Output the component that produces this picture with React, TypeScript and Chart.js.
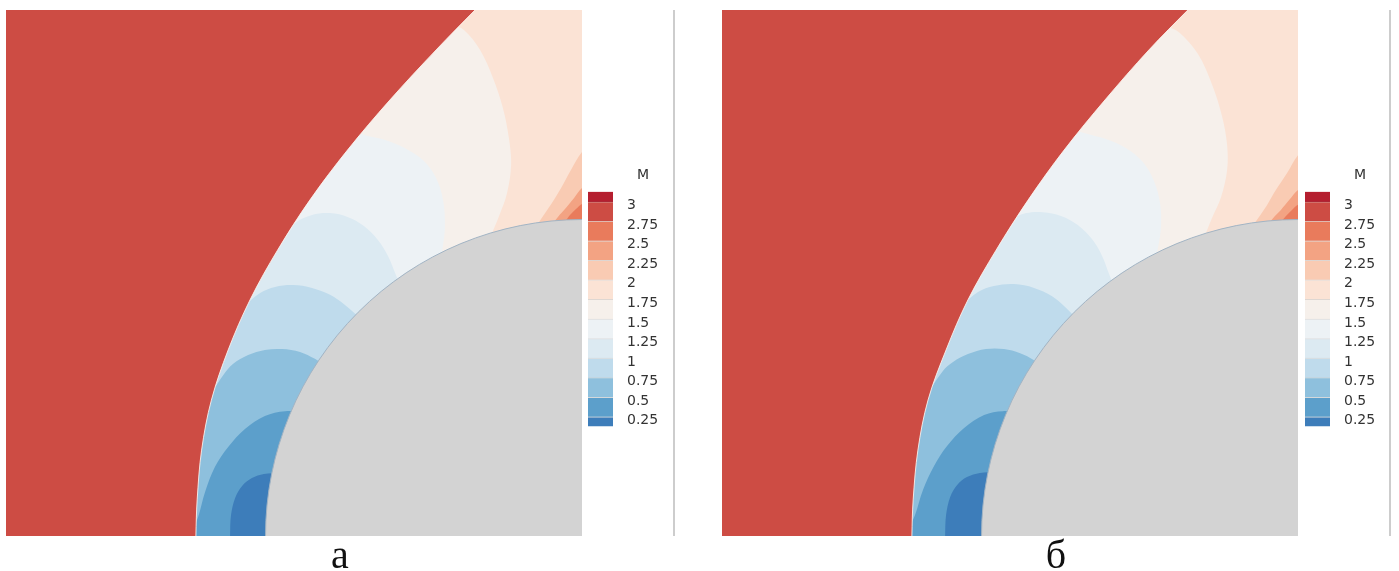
import React, { useEffect, useRef } from "react";
import { Chart, registerables } from "chart.js";

Chart.register(...registerables);

type Pt = [number, number];

// Flow window in body radii (cylinder of radius 1 centred at the origin)
const X_MIN = -1.82;
const X_MAX = 0;
const Y_MIN = 0;
const Y_MAX = 1.66;
const BODY_R = 1;

// Mach-number levels and the colour of each band (below 0.25 ... above 3)
const LEVELS = [0.25, 0.5, 0.75, 1, 1.25, 1.5, 1.75, 2, 2.25, 2.5, 2.75, 3];
const LEGEND_RANGE = [0.125, 3.125];
const BAND_COLORS = [
  "#3D7DBA",
  "#5C9FCB",
  "#8EC0DD",
  "#BFDBEC",
  "#DCEAF2",
  "#EDF2F5",
  "#F6F0EB",
  "#FBE3D5",
  "#F9CBB3",
  "#F3A383",
  "#E97B5C",
  "#CD4C44",
  "#B51E2F",
];
const FREESTREAM_M = 3;
const BODY_COLOR = "#D3D3D3";
const BODY_EDGE = "#A2B4C4";
const SHOCK_EDGE = "rgba(255,244,238,0.85)";
const BAND_SEPARATOR = "rgba(110,110,110,0.22)";
const LEGEND_TITLE = "M";
const PANEL_LABELS = ["а", "б"];

// ---------- panel а ----------
const SHOCK_A: Pt[] = [
  [-1.22, -0.044], [-1.22, 0], [-1.216, 0.114], [-1.202, 0.271], [-1.171, 0.429],
  [-1.118, 0.587], [-1.049, 0.745], [-0.962, 0.902], [-0.86, 1.06], [-0.741, 1.218],
  [-0.607, 1.376], [-0.461, 1.534], [-0.338, 1.66], [-0.291, 1.707],
];
const M025_A: Pt[] = [
  [-1.112, -0.028], [-1.112, 0], [-1.109, 0.066], [-1.096, 0.12], [-1.074, 0.158],
  [-1.043, 0.183], [-1.005, 0.196], [-0.954, 0.199],
];
const M050_A: Pt[] = [
  [-1.232, 0.019], [-1.213, 0.06], [-1.191, 0.139], [-1.16, 0.218], [-1.118, 0.281],
  [-1.065, 0.338], [-1.002, 0.379], [-0.938, 0.394], [-0.875, 0.391],
];
const M075_A: Pt[] = [
  [-1.169, 0.454], [-1.131, 0.511], [-1.103, 0.543], [-1.055, 0.571], [-1.002, 0.587],
  [-0.948, 0.59], [-0.891, 0.581], [-0.844, 0.559], [-0.79, 0.524],
];
const M100_A: Pt[] = [
  [-1.068, 0.726], [-1.017, 0.767], [-0.97, 0.786], [-0.913, 0.792], [-0.853, 0.783],
  [-0.796, 0.761], [-0.749, 0.729], [-0.701, 0.688],
];
const M125_A: Pt[] = [
  [-0.942, 0.947], [-0.907, 0.988], [-0.853, 1.013], [-0.796, 1.019], [-0.739, 1.006],
  [-0.689, 0.978], [-0.645, 0.934], [-0.613, 0.884], [-0.588, 0.824], [-0.566, 0.77],
];
const M150_A: Pt[] = [
  [-0.727, 1.281], [-0.686, 1.265], [-0.622, 1.25], [-0.559, 1.224], [-0.502, 1.186],
  [-0.461, 1.13], [-0.439, 1.06], [-0.433, 0.981], [-0.439, 0.918], [-0.449, 0.865],
];
const M175_A: Pt[] = [
  [-0.411, 1.616], [-0.373, 1.597], [-0.322, 1.534], [-0.281, 1.445], [-0.25, 1.351],
  [-0.231, 1.256], [-0.224, 1.171], [-0.237, 1.082], [-0.262, 1.01], [-0.291, 0.94],
];
const M200_A: Pt[] = [
  [0.041, 1.25], [0, 1.212], [-0.035, 1.155], [-0.066, 1.098], [-0.095, 1.051],
  [-0.123, 1.01], [-0.152, 0.966],
];
const M225_A: Pt[] = [
  [0.041, 1.123], [0, 1.098], [-0.025, 1.067], [-0.051, 1.035], [-0.076, 1.007], [-0.098, 0.978],
];
const M250_A: Pt[] = [
  [0.041, 1.067], [0, 1.048], [-0.019, 1.032], [-0.038, 1.013], [-0.054, 0.991],
];

// ---------- panel б ----------
const SHOCK_B: Pt[] = [
  [-1.22, -0.044], [-1.22, 0], [-1.216, 0.114], [-1.201, 0.271], [-1.169, 0.429],
  [-1.112, 0.587], [-1.043, 0.745], [-0.954, 0.902], [-0.853, 1.06], [-0.739, 1.218],
  [-0.61, 1.376], [-0.471, 1.534], [-0.348, 1.66], [-0.3, 1.707],
];
const M025_B: Pt[] = [
  [-1.115, -0.028], [-1.115, 0], [-1.112, 0.066], [-1.099, 0.123], [-1.077, 0.161],
  [-1.046, 0.186], [-1.005, 0.199], [-0.954, 0.202],
];
const M050_B: Pt[] = [
  [-1.229, 0.025], [-1.21, 0.066], [-1.185, 0.145], [-1.15, 0.221], [-1.109, 0.284],
  [-1.055, 0.341], [-0.992, 0.382], [-0.932, 0.394], [-0.872, 0.388],
];
const M075_B: Pt[] = [
  [-1.163, 0.461], [-1.122, 0.521], [-1.09, 0.549], [-1.043, 0.574], [-0.986, 0.59],
  [-0.929, 0.59], [-0.878, 0.577], [-0.834, 0.555], [-0.787, 0.521],
];
const M100_B: Pt[] = [
  [-1.062, 0.729], [-1.011, 0.77], [-0.961, 0.789], [-0.897, 0.795], [-0.834, 0.783],
  [-0.777, 0.757], [-0.736, 0.723], [-0.695, 0.682],
];
const M125_B: Pt[] = [
  [-0.945, 0.959], [-0.91, 0.997], [-0.859, 1.019], [-0.806, 1.022], [-0.749, 1.01],
  [-0.695, 0.981], [-0.651, 0.937], [-0.619, 0.884], [-0.597, 0.827], [-0.575, 0.77],
];
const M150_B: Pt[] = [
  [-0.717, 1.287], [-0.676, 1.272], [-0.607, 1.253], [-0.543, 1.224], [-0.49, 1.18],
  [-0.455, 1.12], [-0.436, 1.051], [-0.433, 0.975], [-0.442, 0.912], [-0.455, 0.858],
];
const M175_B: Pt[] = [
  [-0.417, 1.609], [-0.376, 1.59], [-0.316, 1.521], [-0.272, 1.426], [-0.24, 1.325],
  [-0.224, 1.234], [-0.224, 1.155], [-0.243, 1.07], [-0.272, 1.003], [-0.3, 0.934],
];
const M200_B: Pt[] = [
  [0.041, 1.24], [0, 1.202], [-0.035, 1.145], [-0.07, 1.092], [-0.098, 1.044],
  [-0.126, 1.003], [-0.155, 0.962],
];
const M225_B: Pt[] = [
  [0.041, 1.117], [0, 1.092], [-0.028, 1.06], [-0.054, 1.029], [-0.079, 1.003], [-0.101, 0.975],
];
const M250_B: Pt[] = [
  [0.041, 1.063], [0, 1.045], [-0.019, 1.029], [-0.038, 1.01], [-0.057, 0.988],
];

interface Contour { level: number; line: Pt[] }
interface PanelSpec { shock: Pt[]; inner: Contour[]; outer: Contour[] }

const PANEL_A: PanelSpec = {
  shock: SHOCK_A,
  inner: [
    { level: 1.75, line: M175_A }, { level: 1.5, line: M150_A }, { level: 1.25, line: M125_A },
    { level: 1, line: M100_A }, { level: 0.75, line: M075_A }, { level: 0.5, line: M050_A },
    { level: 0.25, line: M025_A },
  ],
  outer: [{ level: 2, line: M200_A }, { level: 2.25, line: M225_A }, { level: 2.5, line: M250_A }],
};
const PANEL_B: PanelSpec = {
  shock: SHOCK_B,
  inner: [
    { level: 1.75, line: M175_B }, { level: 1.5, line: M150_B }, { level: 1.25, line: M125_B },
    { level: 1, line: M100_B }, { level: 0.75, line: M075_B }, { level: 0.5, line: M050_B },
    { level: 0.25, line: M025_B },
  ],
  outer: [{ level: 2, line: M200_B }, { level: 2.25, line: M225_B }, { level: 2.5, line: M250_B }],
};

// ---------- helpers ----------
const PAD = 0.05;
const bandBelow = (level: number) => BAND_COLORS[LEVELS.indexOf(level)];
const bandAbove = (level: number) => BAND_COLORS[LEVELS.indexOf(level) + 1];
const xy = (pts: Pt[]) => pts.map(([x, y]) => ({ x, y }));
const twice = (pts: Pt[]) => pts.flatMap((p) => [p, p]);
const pinEnds = (pts: Pt[]) => (pts.length ? [pts[0], ...pts, pts[pts.length - 1]] : []);

function region(curve: Pt[], corners: Pt[], color: string) {
  return {
    type: "line",
    data: xy([...pinEnds(curve), ...twice(corners)]),
    backgroundColor: color,
    borderColor: "rgba(0,0,0,0)",
    borderWidth: 0,
    pointRadius: 0,
    tension: 0.35,
    fill: "shape",
  } as any;
}

function flowConfig(spec: PanelSpec): any {
  const L = X_MIN - PAD;
  const R = X_MAX + PAD;
  const B = Y_MIN - PAD;
  const T = Y_MAX + PAD;
  const layers: any[] = [];
  layers.push(region([], [[L, B], [L, T], [R, T], [R, B]], bandAbove(1.75)));
  for (const c of spec.outer) layers.push(region(c.line, [[X_MAX, B]], bandAbove(c.level)));
  for (const c of spec.inner)
    layers.push(region(c.line, [[X_MAX, B], [L, B], [L, c.line[0][1]]], bandBelow(c.level)));
  layers.push(region(spec.shock, [[L, T], [L, B]], bandBelow(FREESTREAM_M)));
  layers.push({
    type: "line",
    data: xy(spec.shock),
    borderColor: SHOCK_EDGE,
    borderWidth: 1,
    pointRadius: 0,
    tension: 0.35,
    fill: false,
  });
  layers.push({
    type: "bubble",
    data: [{ x: 0, y: 0 }],
    radius: (c: any) => {
      const a = c.chart.chartArea;
      const w = a ? a.right - a.left : c.chart.width;
      return (w * BODY_R) / (X_MAX - X_MIN);
    },
    backgroundColor: BODY_COLOR,
    borderColor: BODY_EDGE,
    borderWidth: 1,
    clip: 0,
  });
  const n = layers.length;
  layers.forEach((d, i) => (d.order = n - i));
  return {
    type: "line",
    data: { datasets: layers },
    options: {
      animation: false,
      responsive: false,
      maintainAspectRatio: false,
      events: [],
      layout: { padding: 0, autoPadding: false },
      plugins: { legend: { display: false }, tooltip: { enabled: false }, title: { display: false } },
      elements: { point: { radius: 0 } },
      scales: {
        x: { type: "linear", min: X_MIN, max: X_MAX, display: false },
        y: { type: "linear", min: Y_MIN, max: Y_MAX, display: false },
      },
    },
  };
}

function FlowPanel({ spec, left }: { spec: PanelSpec; left: number }) {
  const ref = useRef<HTMLCanvasElement>(null);
  useEffect(() => {
    const chart = new Chart(ref.current as HTMLCanvasElement, flowConfig(spec));
    return () => chart.destroy();
  }, [spec]);
  return (
    <canvas
      ref={ref}
      width={576}
      height={526}
      style={{ position: "absolute", left, top: 10, width: 576, height: 526 }}
    />
  );
}

function ColorBar({ left }: { left: number }) {
  const ref = useRef<HTMLCanvasElement>(null);
  useEffect(() => {
    const edges = [LEGEND_RANGE[0], ...LEVELS, LEGEND_RANGE[1]];
    const chart = new Chart(ref.current as HTMLCanvasElement, {
      type: "bar",
      data: {
        labels: [LEGEND_TITLE],
        datasets: BAND_COLORS.map((color, i) => ({
          data: [[edges[i], edges[i + 1]]],
          backgroundColor: color,
          borderColor: BAND_SEPARATOR,
          borderWidth: { top: i < BAND_COLORS.length - 1 ? 1 : 0, bottom: 0, left: 0, right: 0 },
          borderSkipped: false,
          barPercentage: 1,
          categoryPercentage: 1,
          grouped: false,
        })),
      } as any,
      options: {
        animation: false,
        responsive: false,
        maintainAspectRatio: false,
        events: [],
        layout: { padding: { top: 0, left: 0, right: 0, bottom: 12 } },
        plugins: {
          legend: { display: false },
          tooltip: { enabled: false },
          title: {
            display: true,
            text: LEGEND_TITLE,
            align: "center",
            color: "#333",
            padding: { top: 0, bottom: 8 },
            font: { family: "DejaVu Sans", size: 14, weight: "normal" },
          },
        },
        scales: {
          x: { type: "category", display: false },
          y: {
            type: "linear",
            position: "right",
            min: LEGEND_RANGE[0],
            max: LEGEND_RANGE[1],
            afterBuildTicks: (s: any) => {
              s.ticks = LEVELS.map((v) => ({ value: v }));
            },
            afterFit: (s: any) => {
              s.width = 85;
            },
            grid: { display: false, drawTicks: false },
            border: { display: false },
            ticks: {
              autoSkip: false,
              padding: 14,
              labelOffset: 4,
              color: "#333",
              font: { family: "DejaVu Sans", size: 14 },
              callback: (v: any) => String(v),
            },
          },
        },
      } as any,
    });
    return () => chart.destroy();
  }, []);
  return (
    <canvas
      ref={ref}
      width={110}
      height={282}
      style={{ position: "absolute", left, top: 167, width: 110, height: 282 }}
    />
  );
}

const labelStyle = (left: number): React.CSSProperties => ({
  position: "absolute",
  left,
  top: 535,
  width: 100,
  textAlign: "center",
  fontFamily: '"Liberation Serif", "Times New Roman", serif',
  fontSize: 40,
  lineHeight: "40px",
  color: "#111",
});

const sepStyle = (left: number): React.CSSProperties => ({
  position: "absolute",
  left,
  top: 10,
  width: 2,
  height: 526,
  background: "#CDCDCD",
});

export default function App() {
  return (
    <div
      style={{
        position: "absolute",
        left: 0,
        top: 0,
        width: 1399,
        height: 571,
        background: "#fff",
        overflow: "hidden",
      }}
    >
      <FlowPanel spec={PANEL_A} left={6} />
      <ColorBar left={588} />
      <div style={sepStyle(673)} />
      <FlowPanel spec={PANEL_B} left={722} />
      <ColorBar left={1305} />
      <div style={sepStyle(1389)} />
      <div style={labelStyle(290)}>{PANEL_LABELS[0]}</div>
      <div style={labelStyle(1006)}>{PANEL_LABELS[1]}</div>
    </div>
  );
}
